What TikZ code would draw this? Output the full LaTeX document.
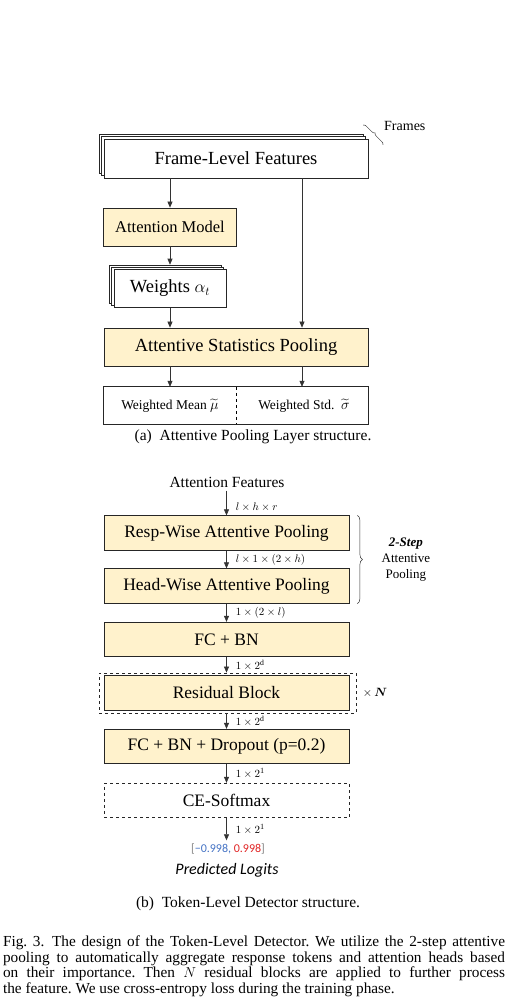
\documentclass[tikz,border=0pt]{standalone}
\usepackage{amsmath}
\usepackage{fontspec}
\setmainfont{Liberation Serif}
\newfontfamily\calibri{Carlito}
\usetikzlibrary{arrows.meta,shadows,decorations.pathreplacing}
\definecolor{cream}{HTML}{FFF2CC}
\definecolor{logitblue}{HTML}{4472C4}
\definecolor{logitred}{HTML}{E02424}

\begin{document}
\begin{tikzpicture}[x=1pt,y=-1pt,
    box/.style={draw=black!85,line width=0.8pt,inner sep=0pt},
    layer/.style={box,fill=cream},
    stack/.style={double copy shadow={shadow xshift=-2.4pt,shadow yshift=2.2pt},fill=white},
    wide/.style={minimum width=245pt,minimum height=34.5pt},
    half/.style={minimum width=132pt,minimum height=37pt,inner sep=0pt,font=\fontsize{13.5}{16}\selectfont},
    flow/.style={draw=black!80,line width=0.6pt,-{Triangle[length=6pt,width=5pt]}},
    dim/.style={anchor=west,font=\fontsize{11}{13}\selectfont,inner sep=0pt},
    big/.style={font=\fontsize{18.5}{22}\selectfont},
    mid/.style={font=\fontsize{17.5}{21}\selectfont},
    brc/.style={draw=black!80,line width=0.5pt,decorate}]
  \useasboundingbox (0,0) rectangle (520,1006);

  % (a) attentive pooling layer
  \node[box,stack,big,minimum width=264pt,minimum height=39pt] (flf) at (236,158.5) {Frame-Level Features};
  \draw[brc,decoration={brace,amplitude=3pt}] (363,125) -- (383,145);
  \node[anchor=west,font=\fontsize{14}{16}\selectfont,inner sep=0pt] (frames) at (384,126) {Frames};
  \node[layer,font=\fontsize{16.5}{20}\selectfont,minimum width=133pt,minimum height=38pt] (am) at (170,227) {Attention Model};
  \node[box,stack,big,minimum width=112pt,minimum height=38pt] (wts) at (170,288.5) {Weights $\alpha_t$};
  \node[layer,big,minimum width=264pt,minimum height=38pt] (asp) at (236,347) {Attentive Statistics Pooling};
  \node[half] (mean) at (170,405.5) {Weighted Mean $\widetilde{\mu}$};
  \node[half] (std) at (302,405.5) {\hspace{4pt}Weighted Std.\ \ $\widetilde{\sigma}$};
  \draw[box] (mean.north west) rectangle (std.south east);
  \draw[dashed,line width=0.8pt] (mean.north east) -- (mean.south east);

  \draw[flow] (flf.south -| am) -- (am.north);
  \draw[flow] (am.south) -- ([yshift=4.4pt]wts.north);
  \draw[flow] (wts.south) -- (asp.north -| wts);
  \draw[flow] (flf.south -| std) -- (asp.north -| std);
  \draw[flow] (asp.south -| mean) -- (mean.north);
  \draw[flow] (asp.south -| std) -- (std.north);

  \node[font=\fontsize{15.5}{18}\selectfont] (capa) at (253,437) {(a)\ \ Attentive Pooling Layer structure.};

  % (b) token-level detector
  \node[font=\fontsize{15.5}{18}\selectfont] (attf) at (227,482) {Attention Features};
  \node[layer,wide,mid] (resp) at (226.5,533) {Resp-Wise Attentive Pooling};
  \node[layer,wide,mid] (head) at (226.5,586) {Head-Wise Attentive Pooling};
  \node[layer,wide,mid] (fcbn) at (226.5,639.5) {FC + BN};
  \node[layer,wide,mid] (res) at (226.5,693) {Residual Block};
  \node[box,dashed,minimum width=257pt,minimum height=40pt] (resgrp) at (227.5,693) {};
  \node[layer,wide,mid] (drop) at (226.5,746.5) {FC + BN + Dropout (p=0.2)};
  \node[box,dashed,fill=white,wide,mid] (ce) at (226.5,800.5) {CE-Softmax};
  \node[font=\calibri\fontsize{12}{14}\selectfont,text=gray] (logit) at (228,849)
    {[\textcolor{logitblue}{\char"2212 0.998,} \textcolor{logitred}{0.998}]};
  \node[font=\calibri\itshape\fontsize{16}{19}\selectfont] (pred) at (227,870) {Predicted Logits};

  \draw[flow] (attf.south -| resp) -- (resp.north) node[dim,pos=0.65,xshift=9pt] {$l\times h\times r$};
  \foreach \a/\b/\lab in {resp/head/{$l\times 1\times (2\times h)$},
      head/fcbn/{$1\times (2\times l)$},
      fcbn/resgrp/{$1\times 2^{\mathrm{d}}$},
      resgrp/drop/{$1\times 2^{\mathrm{d}}$},
      drop/ce/{$1\times 2^{1}$},
      ce/logit/{$1\times 2^{1}$}}
    \draw[flow] (\a.south -| resp) -- (\b.north -| resp) node[dim,midway,xshift=9pt] {\lab};

  \draw[brc,decoration={brace,amplitude=5pt}] ([xshift=8pt]resp.north east) -- ([xshift=8pt]head.south east)
    node[midway,anchor=west,xshift=24pt,inner sep=0pt,align=center,font=\fontsize{13}{16}\selectfont] (twostep)
    {\textbf{\textit{2-Step}}\\Attentive\\Pooling};
  \node[anchor=west,font=\fontsize{12}{14}\selectfont] (times) at ([xshift=3pt]resgrp.east) {$\times\,\boldsymbol{N}$};

  \node[font=\fontsize{15.5}{18}\selectfont] (capb) at (248,904) {(b)\ \ Token-Level Detector structure.};

  \node[anchor=north,text width=502pt,align=justify,inner sep=0pt,font=\fontsize{15.3}{15.6}\selectfont\frenchspacing] (cap) at (254,935.5)
    {Fig.~3.\hspace{0.5em}The design of the Token-Level Detector. We utilize the 2-step attentive\linebreak
     pooling to automatically aggregate response tokens and attention heads based\linebreak
     on their importance. Then $N$ residual blocks are applied to further process\linebreak
     the feature. We use cross-entropy loss during the training phase.};
\end{tikzpicture}
\end{document}
